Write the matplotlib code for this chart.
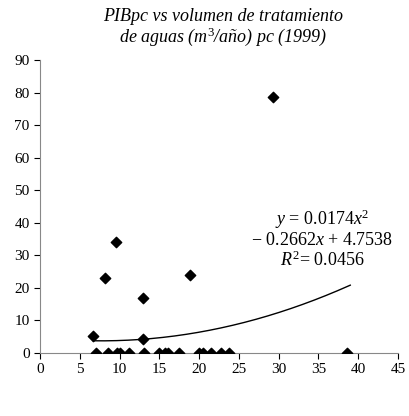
import matplotlib.pyplot as plt
import numpy as np

plt.rcParams['font.family'] = 'Liberation Serif'
plt.rcParams['mathtext.fontset'] = 'custom'
plt.rcParams['mathtext.rm'] = 'Liberation Serif'
plt.rcParams['mathtext.it'] = 'Liberation Serif:italic'

x_vals = [6.7, 8.2, 9.5, 13.0, 13.0, 18.8, 29.3,
          7.0, 8.5, 9.7, 10.1, 11.2, 13.1, 14.9, 15.7, 16.1, 17.5, 20.0, 20.5, 21.5, 22.8, 23.7, 38.6]
y_vals = [5.2, 23.0, 34.0, 17.0, 4.2, 24.0, 78.5,
          0, 0, 0, 0, 0, 0, 0, 0, 0, 0, 0, 0, 0, 0, 0, 0]
coef = [0.0174, -0.2662, 4.7538]

fig = plt.figure(figsize=(4.09, 4.16), dpi=100)
ax = fig.add_axes([40/409, 63/416, 358/409, 293/416])
ax.scatter(x_vals, y_vals, marker='D', s=28, color='black', zorder=3)
xs = np.linspace(6.7, 39, 200)
ax.plot(xs, np.polyval(coef, xs), color='black', lw=1)

ax.set_xlim(0, 45)
ax.set_ylim(0, 90)
ax.set_xticks(range(0, 46, 5))
ax.set_yticks(range(0, 91, 10))
ax.tick_params(labelsize=11, direction='out', length=4)
for s in ['top', 'right']:
    ax.spines[s].set_visible(False)
ax.spines['left'].set_color('#888888')
ax.spines['bottom'].set_color('#888888')

fig.text(0.545, 0.98, 'PIBpc vs volumen de tratamiento\nde aguas (m$^3$/año) pc (1999)',
         ha='center', va='top', fontsize=13, style='italic', linespacing=1.0)
ax.text(35.5, 35, '$y$ = 0.0174$x^2$\n− 0.2662$x$ + 4.7538\n$R^2$= 0.0456',
        ha='center', va='center', fontsize=13, linespacing=1.1)

fig.savefig('out.png', dpi=100)
